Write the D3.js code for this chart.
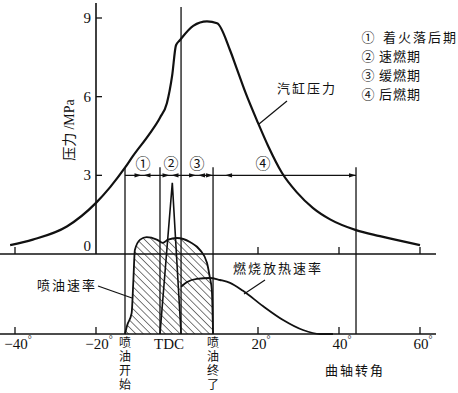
<!DOCTYPE html>
<html>
<head>
<meta charset="utf-8">
<script src="https://cdn.jsdelivr.net/npm/d3@7"></script>
<style>
  body { margin: 0; background: #fff; }
  svg { display: block; }
  .cjk { font-family: "Noto Sans CJK SC", sans-serif; }
  .num { font-family: "Liberation Serif", "DejaVu Serif", serif; }
</style>
</head>
<body>
<svg id="chart" width="458" height="393"></svg>
<script>
// cylinder pressure (crank angle in degrees, MPa)
let pressureDeg = [-41.2, -35.6, -27.2, -20, -16.5, -12.8, -10.9, -6.7, -4.2, -2.5, -1.2, -0.25, 0.7, 4.0, 7.4, 9.9, 13.1, 14.8, 16.8, 20, 22.5, 25.9, 29.6, 33.6, 37.8, 44.2, 50.1, 60];
let pressureVal = [0.34, 0.55, 1.05, 1.95, 2.55, 3.3, 3.73, 4.6, 5.2, 5.75, 6.8, 7.96, 8.15, 8.7, 8.87, 8.8, 7.77, 7.05, 6.2, 5.0, 4.12, 3.1, 2.35, 1.75, 1.32, 0.91, 0.68, 0.34];

// injection rate envelope (relative)
let injDeg = [-12.84, -12.3, -11.2, -10.8, -10.4, -9.1, -7.5, -5.0, -3.5, -2.2, 0, 3.2, 5.7, 7.4, 8.1, 8.6, 8.9];
let injVal = [0, 0.11, 0.26, 0.64, 1.05, 1.18, 1.21, 1.18, 1.14, 1.18, 1.2, 1.15, 1.05, 0.89, 0.71, 0.55, 0];

// rapid combustion spike (relative)
let spikeDeg = [-4.2, -1.16, 1.0];
let spikeVal = [0, 1.89, 0];

// heat release rate (relative)
let heatDeg = [1.0, 2.5, 4.9, 8.1, 10.6, 13.1, 16.3, 21.2, 26.2, 31.1, 35.3, 38.5];
let heatVal = [0.59, 0.65, 0.69, 0.7, 0.675, 0.64, 0.54, 0.35, 0.175, 0.05, 0, 0];

// phase boundaries
let boundaryDeg = [-12.84, -4.2, 1.0, 8.9, 44.2];
let phaseMarks = ['①', '②', '③', '④'];

let xTicks = [-40, -20, 20, 40, 60];
let xTickLabels = ['−40', '−20', '20', '40', '60'];
let pTicks = [0, 3, 6, 9];

let legendItems = [
  ['①', '着火落后期'],
  ['②', '速燃期'],
  ['③', '缓燃期'],
  ['④', '后燃期']
];

let svg = d3.select('#chart');
svg.append('rect').attr('width', 458).attr('height', 393).attr('fill', '#fff');

let x = d3.scaleLinear().domain([-40, 60]).range([15, 420]);
let yP = d3.scaleLinear().domain([0, 9]).range([254, 18]);
let yR = d3.scaleLinear().domain([0, 1]).range([334, 254]);

let ink = '#111';

// hatch pattern
let defs = svg.append('defs');
defs.append('pattern')
  .attr('id', 'hatch')
  .attr('patternUnits', 'userSpaceOnUse')
  .attr('width', 5.2).attr('height', 5.2)
  .attr('patternTransform', 'rotate(-45)')
  .append('line')
  .attr('x1', 0).attr('y1', 0).attr('x2', 0).attr('y2', 5.2)
  .attr('stroke', ink).attr('stroke-width', 1.1);

let arrowHead = (px, py, dir) => {
  // small filled arrowhead with tip at (px, py), dir = 1 right, -1 left
  let l = 7, w = 2.2;
  return 'M' + px + ',' + py + 'L' + (px - dir * l) + ',' + (py - w) +
    'L' + (px - dir * l) + ',' + (py + w) + 'Z';
};

// axes lines
let axisG = svg.append('g').attr('stroke', ink).attr('fill', 'none');
[yR(1), yR(0)].forEach(yy => {
  axisG.append('line')
    .attr('x1', 0).attr('x2', 436).attr('y1', yy).attr('y2', yy)
    .attr('stroke-width', 1.6);
});
axisG.append('line')
  .attr('x1', x(-20)).attr('x2', x(-20)).attr('y1', 3).attr('y2', yP(0))
  .attr('stroke-width', 1.6);

// y ticks (pointing right)
pTicks.filter(d => d > 0).forEach(d => {
  axisG.append('line')
    .attr('x1', x(-20)).attr('x2', x(-20) + 6)
    .attr('y1', yP(d)).attr('y2', yP(d)).attr('stroke-width', 1.3);
});
// x ticks on both horizontal axes (pointing up)
xTicks.forEach(d => {
  axisG.append('line')
    .attr('x1', x(d)).attr('x2', x(d)).attr('y1', yR(0)).attr('y2', yR(0) - 7)
    .attr('stroke-width', 1.3);
  if (d !== -20) {
    axisG.append('line')
      .attr('x1', x(d)).attr('x2', x(d)).attr('y1', yR(1)).attr('y2', yR(1) - 7)
      .attr('stroke-width', 1.3);
  }
});

// vertical phase lines
boundaryDeg.forEach((d, i) => {
  svg.append('line')
    .attr('x1', x(d)).attr('x2', x(d))
    .attr('y1', i === 2 ? 7 : yP(3) - 8).attr('y2', yR(0))
    .attr('stroke', ink).attr('stroke-width', 1.3);
});

// injection rate envelope, hatched
let injData = injDeg.map((d, i) => [d, injVal[i]]);
let injArea = d3.area()
  .x(d => x(d[0])).y0(yR(0)).y1(d => yR(d[1]))
  .curve(d3.curveMonotoneX);
let injLine = d3.line()
  .x(d => x(d[0])).y(d => yR(d[1]))
  .curve(d3.curveMonotoneX);
svg.append('path').attr('d', injArea(injData)).attr('fill', 'url(#hatch)');
svg.append('path').attr('d', injLine(injData))
  .attr('fill', 'none').attr('stroke', ink).attr('stroke-width', 1.8);

// spike
let spikeLine = d3.line().x(d => x(d[0])).y(d => yR(d[1]));
svg.append('path')
  .attr('d', spikeLine(spikeDeg.map((d, i) => [d, spikeVal[i]])))
  .attr('fill', 'none').attr('stroke', ink).attr('stroke-width', 1.6)
  .attr('stroke-linejoin', 'miter');

// heat release rate
let heatLine = d3.line()
  .x(d => x(d[0])).y(d => yR(d[1]))
  .curve(d3.curveMonotoneX);
svg.append('path')
  .attr('d', heatLine(heatDeg.map((d, i) => [d, heatVal[i]])))
  .attr('fill', 'none').attr('stroke', ink).attr('stroke-width', 1.8);

// cylinder pressure
let pLine = d3.line()
  .x(d => x(d[0])).y(d => yP(d[1]))
  .curve(d3.curveMonotoneX);
svg.append('path')
  .attr('d', pLine(pressureDeg.map((d, i) => [d, pressureVal[i]])))
  .attr('fill', 'none').attr('stroke', ink).attr('stroke-width', 2.2);

// phase dimension arrows at 3 MPa
let arrowY = yP(3);
svg.append('line')
  .attr('x1', x(boundaryDeg[0])).attr('x2', x(boundaryDeg[4]))
  .attr('y1', arrowY).attr('y2', arrowY)
  .attr('stroke', ink).attr('stroke-width', 1.2);
for (let i = 0; i < 3; i++) {
  let mid = (x(boundaryDeg[i]) + x(boundaryDeg[i + 1])) / 2;
  svg.append('path').attr('d', arrowHead(mid - 1, arrowY, 1)).attr('fill', ink);
  svg.append('path').attr('d', arrowHead(mid + 1, arrowY, -1)).attr('fill', ink);
}
svg.append('path').attr('d', arrowHead(x(boundaryDeg[3]) + 12, arrowY, -1)).attr('fill', ink);
svg.append('path').attr('d', arrowHead(x(boundaryDeg[4]), arrowY, 1)).attr('fill', ink);
svg.append('path').attr('d', arrowHead(x(boundaryDeg[3]), arrowY, 1)).attr('fill', ink);

let phaseX = [143, 171, 197, 263];
phaseMarks.forEach((m, i) => {
  svg.append('text').attr('class', 'cjk')
    .attr('x', phaseX[i]).attr('y', arrowY - 6)
    .attr('text-anchor', 'middle').attr('font-size', 15).attr('fill', ink)
    .text(m);
});

// tick labels
xTicks.forEach((d, i) => {
  let t = svg.append('text').attr('class', 'num')
    .attr('x', x(d) + 3).attr('y', 349)
    .attr('text-anchor', 'middle').attr('font-size', 15).attr('fill', ink);
  t.append('tspan').text(xTickLabels[i]);
  t.append('tspan').attr('font-size', 10).attr('dy', -6).text('°');
});
pTicks.forEach(d => {
  svg.append('text').attr('class', 'num')
    .attr('x', x(-20) - 5).attr('y', d === 0 ? yP(d) - 3 : yP(d) + 5)
    .attr('text-anchor', 'end').attr('font-size', 15).attr('fill', ink)
    .text(d);
});
svg.append('text').attr('class', 'num')
  .attr('x', 169).attr('y', 349).attr('text-anchor', 'middle')
  .attr('font-size', 15).attr('fill', ink).text('TDC');

// vertical labels under the axis (one text each, vertical writing)
let vLabel = (cx, txt) => {
  svg.append('text').attr('class', 'cjk')
    .attr('x', cx).attr('y', 336)
    .style('writing-mode', 'vertical-rl')
    .attr('font-size', 12).attr('letter-spacing', 2).attr('fill', ink)
    .text(txt);
};
vLabel(x(boundaryDeg[0]), '喷油开始');
vLabel(x(boundaryDeg[3]), '喷油终了');

// y axis title
let yt = svg.append('text')
  .attr('transform', 'translate(74,130) rotate(-90)')
  .attr('text-anchor', 'middle').attr('fill', ink).attr('font-size', 14);
yt.append('tspan').attr('class', 'cjk').text('压力 ');
yt.append('tspan').attr('class', 'num').text('/MPa');

// annotations with leaders
let note = (tx, ty, txt, lx1, ly1, lx2, ly2) => {
  svg.append('text').attr('class', 'cjk')
    .attr('x', tx).attr('y', ty).attr('font-size', 13)
    .attr('letter-spacing', 2).attr('fill', ink).text(txt);
  if (lx1 !== undefined) {
    svg.append('line')
      .attr('x1', lx1).attr('y1', ly1).attr('x2', lx2).attr('y2', ly2)
      .attr('stroke', ink).attr('stroke-width', 1.2);
  }
};
note(277, 93, '汽缸压力', 287, 101, 259, 124);
note(37, 290, '喷油速率', 98, 286, 132, 298);
note(233, 273, '燃烧放热速率', 265, 280, 244, 294);
note(325, 375, '曲轴转角');

// legend
legendItems.forEach((d, i) => {
  let yy = 42 + i * 18.9;
  svg.append('text').attr('class', 'cjk')
    .attr('x', 368).attr('y', yy).attr('text-anchor', 'middle')
    .attr('font-size', 13).attr('fill', ink).text(d[0]);
  svg.append('text').attr('class', 'cjk')
    .attr('x', i === 0 ? 383 : 379).attr('y', yy).attr('font-size', 13)
    .attr('letter-spacing', i === 0 ? 2 : 1).attr('fill', ink).text(d[1]);
});
</script>
</body>
</html>
